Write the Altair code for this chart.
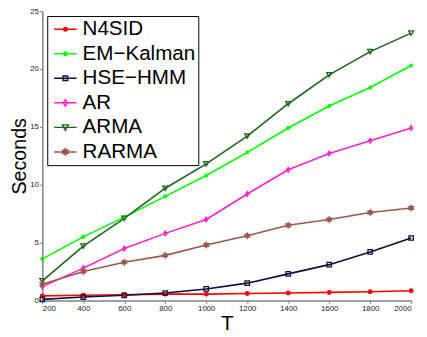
import altair as alt
import pandas as pd

# ---- data ----
T = [200, 400, 600, 800, 1000, 1200, 1400, 1600, 1800, 2000]
series_names = ["N4SID", "EM−Kalman", "HSE−HMM", "AR", "ARMA", "RARMA"]
n4sid = [0.40, 0.45, 0.50, 0.55, 0.55, 0.60, 0.65, 0.70, 0.75, 0.85]
em_kalman = [3.6, 5.5, 7.2, 9.0, 10.8, 12.8, 14.9, 16.8, 18.4, 20.3]
hse_hmm = [0.10, 0.30, 0.45, 0.65, 1.0, 1.5, 2.3, 3.1, 4.2, 5.4]
ar = [1.2, 2.8, 4.5, 5.8, 7.0, 9.2, 11.3, 12.7, 13.8, 14.9]
arma = [1.7, 4.7, 7.1, 9.7, 11.8, 14.2, 17.0, 19.5, 21.5, 23.1]
rarma = [1.4, 2.5, 3.3, 3.9, 4.8, 5.6, 6.5, 7.0, 7.6, 8.0]
y_ticks = [0, 5, 10, 15, 20, 25]

# ---- styles ----
colors = ["#FF0000", "#00FF00", "#0E0E40", "#FF22CC", "#1A661A", "#A0574B"]
fills = ["#FF0000", "transparent", "transparent", "transparent", "transparent", "#A0574B"]
plot_shapes = [
    "circle",
    "M-1,0H1M0,-1V1M-0.7,-0.7L0.7,0.7M-0.7,0.7L0.7,-0.7",
    "square",
    "M0,-1L0.7,0L0,1L-0.7,0Z",
    "triangle-down",
    "M0,-1L0.866,0.5H-0.866ZM0,1L-0.866,-0.5H0.866Z",
]
plot_sizes = [14, 30, 26, 40, 45, 55]
L = "M-1.35,0H1.35"
legend_shapes = [
    L + "M0.22,0A0.22,0.22,0,1,1,-0.22,0A0.22,0.22,0,1,1,0.22,0Z",
    L + "M-0.3,0H0.3M0,-0.3V0.3M-0.21,-0.21L0.21,0.21M-0.21,0.21L0.21,-0.21",
    L + "M-0.27,-0.27H0.27V0.27H-0.27Z",
    L + "M0,-0.38L0.27,0L0,0.38L-0.27,0Z",
    L + "M-0.35,-0.3H0.35L0,0.35Z",
    L + "M0,-0.38L0.33,0.19H-0.33ZM0,0.38L-0.33,-0.19H0.33Z",
]

all_values = [n4sid, em_kalman, hse_hmm, ar, arma, rarma]
rows = []
for name, vals in zip(series_names, all_values):
    for t, v in zip(T, vals):
        rows.append({"T": t, "seconds": v, "series": name})
df = pd.DataFrame(rows)

x_enc = alt.X(
    "T:Q",
    scale=alt.Scale(domain=[200, 2000], nice=False, zero=False),
    axis=alt.Axis(values=T, format="d", title="T", titleY=30,
                  titleBaseline="alphabetic"),
)
y_enc = alt.Y(
    "seconds:Q",
    scale=alt.Scale(domain=[0, 25], nice=False),
    axis=alt.Axis(values=y_ticks, title="Seconds", titleX=-17,
                  titleFontSize=20, titleBaseline="alphabetic"),
)

cscale = alt.Scale(domain=series_names, range=colors)
fscale = alt.Scale(domain=series_names, range=fills)

base = alt.Chart(df)

lines = base.mark_line(strokeWidth=1.6).encode(
    x=x_enc, y=y_enc,
    color=alt.Color("series:N", scale=cscale, legend=None),
)

points = base.mark_point(filled=False, strokeWidth=1.3, opacity=1).encode(
    x=x_enc, y=y_enc,
    color=alt.Color("series:N", scale=cscale, legend=None),
    fill=alt.Fill("series:N", scale=fscale, legend=None),
    shape=alt.Shape("series:N", scale=alt.Scale(domain=series_names, range=plot_shapes), legend=None),
    size=alt.Size("series:N", scale=alt.Scale(domain=series_names, range=plot_sizes), legend=None),
)

leg = alt.Legend(
    orient="none", legendX=5, legendY=5, title=None,
    strokeColor="black", fillColor="white", padding=3,
    labelFontSize=21, labelFont="Liberation Sans", labelColor="black",
    symbolSize=289, symbolStrokeWidth=1.5, symbolOffset=5, labelOffset=7,
    rowPadding=3,
)

legend_layer = base.transform_filter("false").mark_point(
    filled=False, size=289, strokeWidth=1.5, opacity=1
).encode(
    x=x_enc, y=y_enc,
    color=alt.Color("series:N", scale=cscale, legend=leg),
    fill=alt.Fill("series:N", scale=fscale, legend=leg),
    shape=alt.Shape("series:N", scale=alt.Scale(domain=series_names, range=legend_shapes), legend=leg),
)

chart = alt.layer(lines, points, legend_layer).resolve_scale(
    color="independent", fill="independent", shape="independent", size="independent"
).properties(
    width=376, height=295,
    autosize=alt.AutoSizeParams(type="none"),
    padding={"left": 35, "top": 0, "right": 8, "bottom": 34},
).configure_view(stroke=None).configure_axis(
    grid=False,
    labelFont="Liberation Sans", labelFontSize=8, labelColor="#222222",
    labelPadding=1,
    domainColor="#808080", domainWidth=1.5,
    tickColor="#808080", tickSize=3,
    titleFont="Liberation Sans", titleFontSize=21, titleFontWeight="normal",
    titleColor="black",
)

chart.save("out.html", embed_options={"renderer": "svg", "actions": False})
